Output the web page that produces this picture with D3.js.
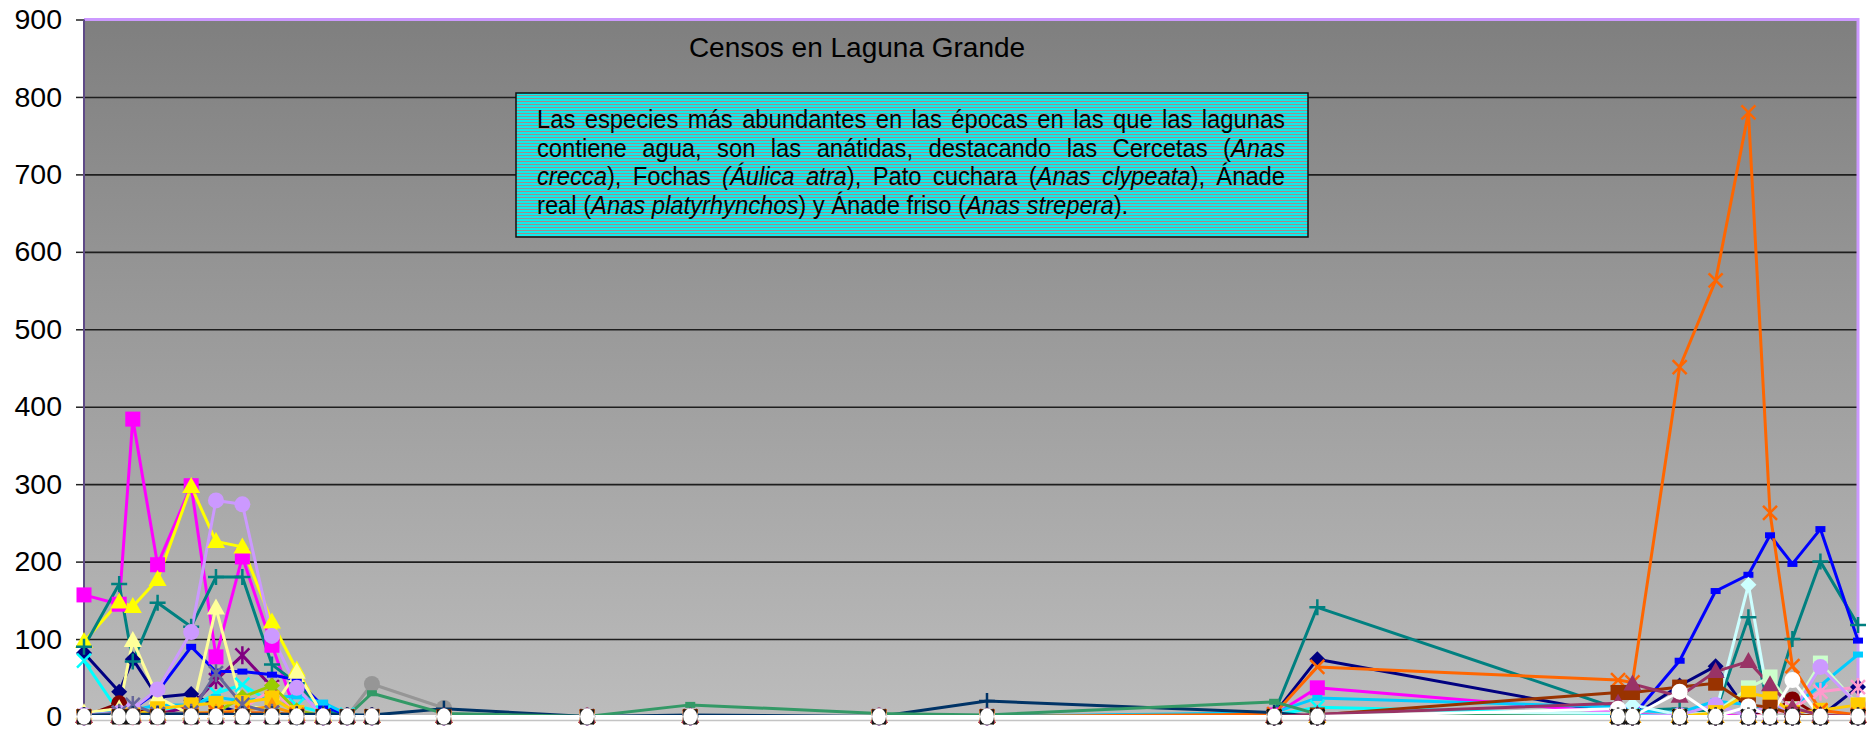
<!DOCTYPE html>
<html>
<head>
<meta charset="utf-8">
<script src="https://cdn.jsdelivr.net/npm/d3@7"></script>
<style>
  body { margin: 0; background: #fff; }
  svg { display: block; font-family: "Liberation Sans", Arial, sans-serif; }
</style>
</head>
<body>
<div id="chart"></div>
<script>
// dias transcurridos desde el primer censo (el eje X no lleva rotulos)
const dias = [0, 44, 61, 92, 134, 165, 198, 235, 266, 299, 329, 360, 450, 629, 758, 994, 1129, 1488, 1542, 1918, 1936, 1995, 2040, 2081, 2108, 2136, 2171, 2218];
const ticksY = [0, 100, 200, 300, 400, 500, 600, 700, 800, 900];

// una serie por especie, mismo orden que la hoja original
const serie01 = [82, 32, 74, 25, 29, 14, 5, 2, 0, 0, 0, 0, 0, 0, 0, 0, 0, 3, 74, 3, 0, 40, 65, 5, 0, 0, 0, 38];
const serie02 = [157, 145, 384, 196, 298, 77, 206, 92, 2, 0, 0, 0, 0, 0, 0, 0, 0, 2, 37, 5, 3, 0, 2, 0, 0, 0, 0, 0];
const serie03 = [97, 148, 142, 177, 297, 226, 219, 122, 60, 2, 0, 0, 0, 0, 0, 0, 0, 0, 0, 0, 0, 0, 0, 0, 0, 0, 0, 0];
const serie04 = [72, 5, 5, 10, 12, 30, 41, 18, 14, 5, 2, 0, 0, 0, 0, 0, 0, 2, 12, 3, 2, 0, 0, 0, 0, 0, 0, 0];
const serie05 = [0, 3, 5, 3, 13, 47, 79, 38, 3, 0, 0, 0, 0, 0, 0, 0, 0, 0, 0, 0, 0, 0, 0, 0, 0, 0, 0, 0];
const serie06 = [0, 17, 8, 5, 3, 2, 2, 2, 0, 0, 0, 0, 0, 0, 0, 0, 0, 0, 0, 0, 0, 0, 0, 0, 5, 22, 0, 0];
const serie07 = [90, 171, 71, 147, 116, 180, 180, 67, 43, 8, 0, 0, 0, 0, 0, 0, 0, 4, 141, 10, 8, 10, 5, 128, 3, 100, 200, 118];
const serie08 = [5, 8, 10, 32, 90, 58, 58, 54, 47, 13, 2, 0, 0, 0, 0, 0, 0, 0, 0, 0, 0, 72, 162, 183, 234, 197, 242, 98];
const serie09 = [5, 5, 8, 15, 15, 25, 20, 25, 26, 18, 3, 0, 0, 0, 0, 0, 0, 5, 24, 12, 8, 5, 20, 15, 10, 12, 40, 80];
const serie10 = [0, 0, 0, 0, 0, 0, 0, 0, 0, 0, 0, 0, 0, 0, 0, 0, 0, 0, 0, 5, 15, 2, 5, 170, 10, 5, 0, 0];
const serie11 = [0, 0, 0, 0, 0, 0, 0, 0, 0, 0, 0, 0, 0, 0, 0, 0, 0, 0, 0, 0, 0, 0, 5, 37, 51, 10, 69, 15];
const serie12 = [5, 10, 98, 25, 2, 140, 13, 10, 57, 2, 0, 0, 0, 0, 0, 0, 0, 0, 0, 0, 0, 0, 0, 0, 0, 0, 0, 0];
const serie13 = [0, 0, 0, 0, 0, 2, 10, 35, 5, 0, 0, 0, 0, 0, 0, 0, 0, 0, 0, 0, 0, 0, 0, 0, 3, 10, 32, 38];
const serie14 = [2, 5, 10, 35, 109, 279, 274, 104, 37, 0, 0, 0, 0, 0, 0, 0, 0, 0, 0, 0, 0, 2, 15, 0, 19, 5, 64, 15];
const serie15 = [0, 0, 0, 0, 2, 5, 25, 40, 8, 0, 0, 0, 0, 0, 0, 0, 0, 0, 0, 0, 0, 0, 0, 0, 0, 0, 0, 0];
const serie16 = [0, 0, 2, 10, 15, 17, 18, 24, 5, 0, 0, 0, 0, 0, 0, 0, 0, 0, 0, 0, 0, 0, 5, 30, 25, 5, 8, 15];
const serie17 = [0, 0, 2, 3, 5, 5, 8, 13, 3, 0, 0, 0, 0, 0, 0, 0, 0, 0, 0, 0, 0, 0, 0, 0, 0, 0, 0, 0];
const serie18 = [0, 0, 0, 2, 3, 5, 5, 5, 2, 0, 0, 0, 0, 0, 0, 0, 0, 3, 64, 47, 44, 451, 563, 780, 263, 65, 8, 2];
const serie19 = [0, 5, 15, 3, 5, 56, 15, 5, 0, 0, 0, 0, 0, 0, 0, 0, 0, 0, 0, 0, 0, 0, 0, 0, 0, 0, 0, 0];
const serie20 = [null, null, null, null, null, null, null, null, null, null, 0, 42, 11, null, null, null, null, null, null, null, null, null, null, null, null, null, null, null];
const serie21 = [2, 2, 3, 3, 3, 3, 3, 3, 3, 3, 2, 2, 10, 0, 2, 0, 20, 5, 0, 0, 0, 0, 0, 0, 0, 0, 0, 0];
const serie22 = [0, 0, 0, 0, 0, 0, 0, 0, 0, 0, 0, 30, 4, 0, 15, 4, 2, 19, 3, 0, 0, 0, 0, 0, 0, 0, 0, 0];
const serie23 = [0, 0, 0, 0, 0, 0, 0, 0, 0, 0, 0, 0, 0, 0, 0, 0, 0, 0, 2, 31, 31, 38, 43, 15, 12, 3, 0, 0];
const serie24 = [0, 0, 0, 0, 0, 0, 0, 0, 0, 0, 0, 0, 0, 0, 0, 0, 0, 0, 3, 17, 42, 26, 58, 71, 41, 11, 2, 0];
const serie25 = [0, 0, 0, 0, 0, 0, 0, 0, 0, 0, 0, 0, 0, 0, 0, 0, 0, 0, 0, 10, 0, 32, 0, 13, 0, 47, 0, 0];
const serie26 = [null, null, null, null, null, null, null, null, null, null, null, null, null, null, null, null, null, 0, 0, 0, 0, 0, 0, 0, 0, 0, 0, 0];
const serie27 = [0, 0, 0, 0, 0, 0, 0, 0, 0, 0, 0, 0, 0, 0, 0, 0, 0, 0, 0, 0, 0, 0, 0, 0, 0, 0, 0, 0];

const titulo = "Censos en Laguna Grande";
// cuadro de texto: cada linea es una lista de trozos [texto, cursiva]
const nota = [
  [["Las especies más abundantes en las épocas en las que las lagunas", false]],
  [["contiene agua, son las anátidas, destacando las Cercetas (", false], ["Anas", true]],
  [["crecca", true], ["), Fochas ", false], ["(Áulica atra", true], ["), Pato cuchara (", false], ["Anas clypeata", true], ["), Ánade", false]],
  [["real (", false], ["Anas platyrhynchos", true], [") y Ánade friso (", false], ["Anas strepera", true], [").", false]]
];

// estilo de cada serie (color de linea y marcador)
const series = [
  { datos: serie01, color: "#000080", marca: "rombo" },
  { datos: serie02, color: "#ff00ff", marca: "cuadro" },
  { datos: serie03, color: "#ffff00", marca: "triangulo" },
  { datos: serie04, color: "#00ffff", marca: "aspa" },
  { datos: serie05, color: "#800080", marca: "asterisco" },
  { datos: serie06, color: "#800000", marca: "circulo" },
  { datos: serie07, color: "#008080", marca: "mas" },
  { datos: serie08, color: "#0000ff", marca: "guion" },
  { datos: serie09, color: "#00ccff", marca: "guion" },
  { datos: serie10, color: "#ccffff", marca: "rombo" },
  { datos: serie11, color: "#ccffcc", marca: "cuadro" },
  { datos: serie12, color: "#ffff99", marca: "triangulo" },
  { datos: serie13, color: "#ff99cc", marca: "asterisco" },
  { datos: serie14, color: "#cc99ff", marca: "circulo" },
  { datos: serie15, color: "#99cc00", marca: "rombo" },
  { datos: serie16, color: "#ffcc00", marca: "cuadro" },
  { datos: serie17, color: "#ff9900", marca: "triangulo" },
  { datos: serie18, color: "#ff6600", marca: "aspa" },
  { datos: serie19, color: "#666699", marca: "asterisco" },
  { datos: serie20, color: "#969696", marca: "circulo" },
  { datos: serie21, color: "#003366", marca: "mas" },
  { datos: serie22, color: "#339966", marca: "guion" },
  { datos: serie23, color: "#993300", marca: "cuadro" },
  { datos: serie24, color: "#993366", marca: "triangulo" },
  { datos: serie25, color: "#ffffff", marca: "circulo" },
  { datos: serie26, color: "#000000", marca: "asterisco" },
  { datos: serie27, color: "#ffffff", marca: "cero" }
];

const width = 1876, height = 732;
const izq = 84, der = 1858, arriba = 19.5, abajo = 716.5;

const svg = d3.select("#chart").append("svg")
  .attr("width", width)
  .attr("height", height);

const x = d3.scaleLinear().domain([0, d3.max(dias)]).range([izq, der]);
const y = d3.scaleLinear().domain([0, 900]).range([abajo, arriba]);

const defs = svg.append("defs");
const grad = defs.append("linearGradient").attr("id", "fondo")
  .attr("x1", 0).attr("y1", 0).attr("x2", 0).attr("y2", 1);
grad.append("stop").attr("offset", "0%").attr("stop-color", "#7f7f7f");
grad.append("stop").attr("offset", "100%").attr("stop-color", "#bcbcbc");

const rayas = defs.append("pattern").attr("id", "rayas")
  .attr("patternUnits", "userSpaceOnUse").attr("width", 8).attr("height", 3);
rayas.append("rect").attr("width", 8).attr("height", 3).attr("fill", "#12eaea");
rayas.append("rect").attr("y", 2).attr("width", 8).attr("height", 1).attr("fill", "#a08c8c");

// fondo del area de trazado
svg.append("rect")
  .attr("x", izq).attr("y", arriba)
  .attr("width", der - izq).attr("height", abajo - arriba)
  .attr("fill", "url(#fondo)");

// lineas de division
svg.append("g")
  .attr("transform", `translate(${izq},0)`)
  .call(d3.axisLeft(y).tickValues(ticksY.filter(v => v > 0 && v < 900)).tickSize(-(der - izq)).tickFormat(""))
  .call(g => g.select(".domain").remove())
  .call(g => g.selectAll("line").attr("stroke", "#1e1e1e").attr("stroke-width", 1.6));

// eje Y
svg.append("g")
  .attr("transform", `translate(${izq},0)`)
  .call(d3.axisLeft(y).tickValues(ticksY).tickSize(8).tickPadding(14))
  .call(g => g.select(".domain").remove())
  .call(g => g.selectAll("line").attr("stroke", "#222").attr("stroke-width", 1.5))
  .call(g => g.selectAll("text")
    .attr("font-size", 28.5)
    .attr("font-family", "'Liberation Sans', Arial, sans-serif")
    .attr("fill", "#000"));

// bordes
svg.append("line").attr("x1", izq).attr("x2", der).attr("y1", arriba).attr("y2", arriba)
  .attr("stroke", "#cc99ff").attr("stroke-width", 3);
svg.append("line").attr("x1", der).attr("x2", der).attr("y1", arriba - 1.5).attr("y2", abajo)
  .attr("stroke", "#cc99ff").attr("stroke-width", 3);
svg.append("line").attr("x1", izq).attr("x2", izq).attr("y1", arriba).attr("y2", abajo)
  .attr("stroke", "#5e4a86").attr("stroke-width", 2);
svg.append("line").attr("x1", izq).attr("x2", der).attr("y1", abajo + 4).attr("y2", abajo + 4)
  .attr("stroke", "#c4c4c4").attr("stroke-width", 1.5);

// titulo
svg.append("text")
  .attr("x", 857).attr("y", 57)
  .attr("text-anchor", "middle")
  .attr("font-size", 28)
  .attr("fill", "#000")
  .text(titulo);

// cuadro de texto
const caja = { x: 516, y: 93, w: 792, h: 144 };
svg.append("rect")
  .attr("x", caja.x).attr("y", caja.y).attr("width", caja.w).attr("height", caja.h)
  .attr("fill", "url(#rayas)")
  .attr("stroke", "#111").attr("stroke-width", 1.5);

// letra algo estrecha imitada con un escalado horizontal
const estrecha = 0.95;
const anchoTexto = 748;
nota.forEach((linea, i) => {
  const t = svg.append("text")
    .attr("transform", `translate(537,${128 + i * 28.5}) scale(${estrecha},1)`)
    .attr("font-size", 25)
    .attr("fill", "#000");
  linea.forEach(([txt, cursiva]) => {
    t.append("tspan").attr("font-style", cursiva ? "italic" : "normal").text(txt);
  });
  // justificado, menos la ultima linea
  if (i < nota.length - 1) {
    const w = t.node().getComputedTextLength();
    const espacios = linea.map(d => d[0]).join("").split(" ").length - 1;
    const ws = (anchoTexto / estrecha - w) / espacios;
    if (ws >= 0) t.style("word-spacing", ws + "px");
    else t.attr("textLength", anchoTexto / estrecha).attr("lengthAdjust", "spacingAndGlyphs");
  }
});

// lineas de las series
const linea = d3.line()
  .defined(d => d[1] != null)
  .x(d => x(d[0]))
  .y(d => y(d[1]));

const gLineas = svg.append("g");
series.forEach(s => {
  const pts = dias.map((d, i) => [d, s.datos[i]]);
  gLineas.append("path")
    .attr("d", linea(pts))
    .attr("fill", "none")
    .attr("stroke", s.color)
    .attr("stroke-width", 3)
    .attr("stroke-linejoin", "round");
});

// marcadores
function marcador(g, tipo, color) {
  if (tipo === "rombo") {
    g.append("path").attr("d", "M0,-8L8,0L0,8L-8,0Z").attr("fill", color);
  } else if (tipo === "cuadro") {
    g.append("rect").attr("x", -7.5).attr("y", -7.5).attr("width", 15).attr("height", 15).attr("fill", color);
  } else if (tipo === "triangulo") {
    g.append("path").attr("d", "M0,-9.5L9,6.5L-9,6.5Z").attr("fill", color);
  } else if (tipo === "circulo") {
    g.append("circle").attr("r", 8).attr("fill", color);
  } else if (tipo === "guion") {
    g.append("rect").attr("x", -5).attr("y", -3).attr("width", 10).attr("height", 6).attr("fill", color);
  } else if (tipo === "aspa") {
    g.append("path").attr("d", "M-7,-7L7,7M-7,7L7,-7")
      .attr("stroke", color).attr("stroke-width", 2.5).attr("fill", "none");
  } else if (tipo === "mas") {
    g.append("path").attr("d", "M-8,0L8,0M0,-8L0,8")
      .attr("stroke", color).attr("stroke-width", 2.5).attr("fill", "none");
  } else if (tipo === "asterisco") {
    g.append("path").attr("d", "M-7,-7L7,7M-7,7L7,-7M0,-9L0,9")
      .attr("stroke", color).attr("stroke-width", 2.5).attr("fill", "none");
  } else if (tipo === "cero") {
    g.append("rect").attr("x", -7).attr("y", -7).attr("width", 14).attr("height", 15).attr("fill", "#1a1a1a");
    g.append("ellipse").attr("rx", 7).attr("ry", 8).attr("fill", "#fff");
  }
}

const gMarcas = svg.append("g");
series.forEach(s => {
  dias.forEach((d, i) => {
    const v = s.datos[i];
    if (v == null) return;
    const g = gMarcas.append("g").attr("transform", `translate(${x(d)},${y(v)})`);
    marcador(g, s.marca, s.color);
  });
});
</script>
</body>
</html>
